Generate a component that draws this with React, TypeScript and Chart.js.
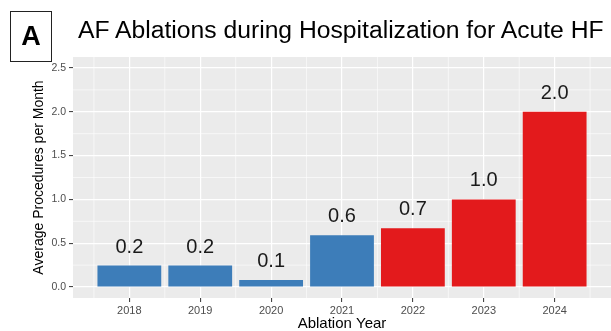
import React, { useEffect, useRef } from 'react';
import { Chart, registerables } from 'chart.js';

Chart.register(...registerables);

const YEARS = [2018, 2019, 2020, 2021, 2022, 2023, 2024];
const AVG_PER_MONTH = [0.245, 0.245, 0.08, 0.59, 0.67, 1.0, 2.0];
const PERIOD = ['pre', 'pre', 'pre', 'pre', 'post', 'post', 'post'];
const PERIOD_COLORS: Record<string, string> = { pre: '#3D7DB9', post: '#E31A1C' };
const Y_TICKS = [0, 0.5, 1, 1.5, 2, 2.5];
const X_LIMITS = [2017.205, 2024.795];
const Y_LIMITS = [-0.125, 2.625];
const TITLE = 'AF Ablations during Hospitalization for Acute HF';
const PANEL_TAG = 'A';
const X_TITLE = 'Ablation Year';
const Y_TITLE = 'Average Procedures per Month';

const FAMILY = '"Liberation Sans", Arial, Helvetica, sans-serif';

function minorValues(major: number[], limits: number[]) {
  const out: number[] = [];
  const step = major[1] - major[0];
  const ext = [major[0] - step, ...major, major[major.length - 1] + step];
  for (let i = 0; i < ext.length - 1; i++) {
    const m = (ext[i] + ext[i + 1]) / 2;
    if (m > limits[0] && m < limits[1]) out.push(m);
  }
  return out;
}

const panelPlugin = {
  id: 'ggpanel',
  beforeDraw(chart: any) {
    const { ctx, chartArea: a } = chart;
    ctx.save();
    ctx.fillStyle = '#EBEBEB';
    ctx.fillRect(a.left, a.top, a.right - a.left, a.bottom - a.top);
    ctx.restore();
  },
  beforeDatasetsDraw(chart: any) {
    const { ctx, chartArea: a, scales } = chart;
    ctx.save();
    ctx.strokeStyle = '#FFFFFF';
    ctx.lineWidth = 0.6;
    for (const v of minorValues(YEARS, X_LIMITS)) {
      const px = scales.x.getPixelForValue(v);
      ctx.beginPath();
      ctx.moveTo(px, a.top);
      ctx.lineTo(px, a.bottom);
      ctx.stroke();
    }
    for (const v of minorValues(Y_TICKS, Y_LIMITS)) {
      const py = scales.y.getPixelForValue(v);
      ctx.beginPath();
      ctx.moveTo(a.left, py);
      ctx.lineTo(a.right, py);
      ctx.stroke();
    }
    ctx.restore();
  },
  afterDatasetsDraw(chart: any) {
    const { ctx } = chart;
    const meta = chart.getDatasetMeta(0);
    ctx.save();
    ctx.fillStyle = '#1A1A1A';
    ctx.font = `20px ${FAMILY}`;
    ctx.textAlign = 'center';
    ctx.textBaseline = 'alphabetic';
    meta.data.forEach((el: any, i: number) => {
      ctx.fillText(AVG_PER_MONTH[i].toFixed(1), el.x, el.y - 13);
    });
    ctx.restore();
  },
};

export default function App() {
  const ref = useRef<HTMLCanvasElement>(null);

  useEffect(() => {
    const chart = new Chart(ref.current as HTMLCanvasElement, {
      type: 'bar',
      data: {
        datasets: [
          {
            data: YEARS.map((y, i) => ({ x: y, y: AVG_PER_MONTH[i] })),
            backgroundColor: PERIOD.map((p) => PERIOD_COLORS[p]),
            borderWidth: 0,
            barPercentage: 0.9,
            categoryPercentage: 1,
          },
        ],
      },
      options: {
        animation: false,
        responsive: false,
        devicePixelRatio: 1,
        layout: { padding: { top: 57, left: 0, right: 0, bottom: 0 } },
        plugins: { legend: { display: false }, tooltip: { enabled: false }, title: { display: false } },
        scales: {
          x: {
            type: 'linear',
            min: X_LIMITS[0],
            max: X_LIMITS[1],
            offset: false,
            afterBuildTicks: (s: any) => {
              s.ticks = YEARS.map((v) => ({ value: v }));
            },
            afterFit: (s: any) => {
              s.height = 33;
            },
            grid: {
              offset: false,
              color: '#FFFFFF',
              lineWidth: 1.2,
              drawTicks: true,
              tickLength: 4,
              tickColor: '#333333',
              tickWidth: 1,
            },
            border: { display: false },
            ticks: {
              autoSkip: false,
              maxRotation: 0,
              minRotation: 0,
              padding: 2,
              color: '#4D4D4D',
              font: { family: FAMILY, size: 11 },
              callback: (v: any) => String(v),
            },
            title: {
              display: true,
              text: X_TITLE,
              color: '#000000',
              font: { family: FAMILY, size: 15 },
              padding: { top: 0, bottom: -2 },
            },
          },
          y: {
            type: 'linear',
            min: Y_LIMITS[0],
            max: Y_LIMITS[1],
            afterBuildTicks: (s: any) => {
              s.ticks = Y_TICKS.map((v) => ({ value: v }));
            },
            afterFit: (s: any) => {
              s.width = 73;
            },
            grid: {
              color: '#FFFFFF',
              lineWidth: 1.2,
              drawTicks: true,
              tickLength: 4,
              tickColor: '#333333',
              tickWidth: 1,
            },
            border: { display: false },
            ticks: {
              padding: 3,
              color: '#4D4D4D',
              font: { family: FAMILY, size: 10.5 },
              callback: (v: any) => Number(v).toFixed(1),
            },
            title: {
              display: true,
              text: Y_TITLE,
              color: '#000000',
              font: { family: FAMILY, size: 14 },
              padding: { top: 31, bottom: 0 },
            },
          },
        },
      } as any,
      plugins: [panelPlugin],
    });
    return () => chart.destroy();
  }, []);

  return (
    <div
      style={{
        position: 'absolute',
        left: 0,
        top: 0,
        width: 611,
        height: 331,
        background: '#FFFFFF',
        overflow: 'hidden',
      }}
    >
      <canvas
        ref={ref}
        width={611}
        height={331}
        style={{ position: 'absolute', left: 0, top: 0, width: 611, height: 331 }}
      />
      <div
        style={{
          position: 'absolute',
          left: 10,
          top: 11,
          width: 42,
          height: 51,
          boxSizing: 'border-box',
          border: '1px solid #222222',
          display: 'flex',
          alignItems: 'center',
          justifyContent: 'center',
          fontFamily: FAMILY,
          fontWeight: 'bold',
          fontSize: 27,
          lineHeight: '27px',
          color: '#000000',
        }}
      >
        {PANEL_TAG}
      </div>
      <div
        style={{
          position: 'absolute',
          left: 78,
          top: 18,
          fontFamily: FAMILY,
          fontSize: 24.7,
          lineHeight: '24.7px',
          whiteSpace: 'nowrap',
          color: '#000000',
        }}
      >
        {TITLE}
      </div>
    </div>
  );
}
